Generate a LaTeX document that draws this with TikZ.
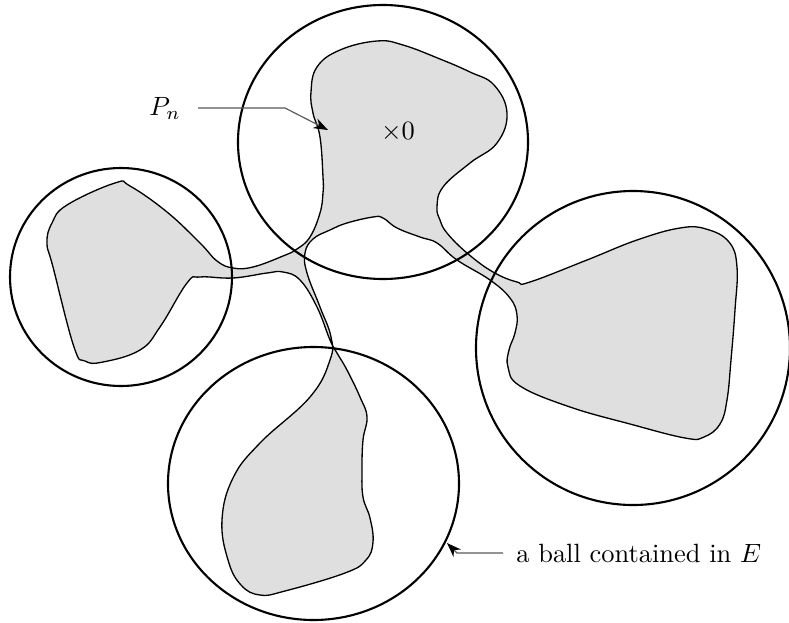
\documentclass[tikz,border=0pt]{standalone}
\usetikzlibrary{arrows.meta}
\begin{document}
\begin{tikzpicture}[x=0.0133cm, y=-0.0133cm,
  ball/.style={line width=0.8pt},
  region/.style={fill=gray!25, line width=0.5pt},
  leader/.style={gray!70!black, line width=0.45pt, -{Stealth[black, length=5.5pt, width=4pt]}}]
\useasboundingbox (0,0) rectangle (789,623);

\draw[region] plot[smooth cycle, tension=0.7] coordinates {
 (311,92) (317,67) (340,50) (377,41) (403,45) (440,59) (470,72) (494,85) (507,113)
 (497,143) (470,163) (443,187) (437,207) (440,220) (447,233) (467,253)
 (493,272) (517,282) (530,282) (587,260) (637,240) (680,228) (706,229)
 (729,242) (737,267) (735,310) (731,360) (727,400) (720,424) (704,437) (685,438)
 (630,424) (570,407) (520,386) (508,367) (509,350) (515,333) (517,315) (510,298)
 (490,280) (457,260) (437,243) (420,237) (397,228) (383,218) (373,217)
 (347,223) (330,230) (313,239) (305,253) (307,273) (320,307) (331,337)
 (330,360) (310,397) (260,443) (233,478) (222,520) (228,560) (241,585) (260,595)
 (285,591) (345,573) (366,560) (373,542) (370,518) (363,497) (362,470) (363,440) (367,417)
 (360,397) (347,370) (337,353) (330,340) (317,307) (300,280) (283,272)
 (267,273) (233,278) (200,277) (187,283) (160,327) (140,350) (103,362)
 (85,361) (74,347) (53,267) (47,243) (52,223) (67,205) (115,183) (130,186)
 (167,212) (200,243) (217,261) (233,268) (253,267) (283,256) (297,249)
 (310,237) (320,213) (323,193) (323,177) (320,137) (313,113)};

\draw[ball] (383,142) circle [x radius=145, y radius=137];
\draw[ball] (121,277) circle [x radius=111, y radius=109];
\draw[ball] (313.5,483.5) circle [x radius=145.5, y radius=136.5];
\draw[ball] (633,348) circle [x radius=157, y radius=157];

\node (origin) at (398,132) {$\times 0$};

\node[anchor=east] (pn) at (190,108) {$P_n$};
\coordinate (pnbend) at (285,108);
\coordinate (pntip) at (328,130);
\draw[leader] (pn.east) ++(8,0) -- (pnbend) -- (pntip);

\node[anchor=west] (ball) at (507,553) {a ball contained in $E$};
\coordinate (ballbend) at (457,553);
\coordinate (balltip) at (447,543);
\draw[leader] (ball.west) ++(-4,0) -- (ballbend) -- (balltip);
\end{tikzpicture}
\end{document}
